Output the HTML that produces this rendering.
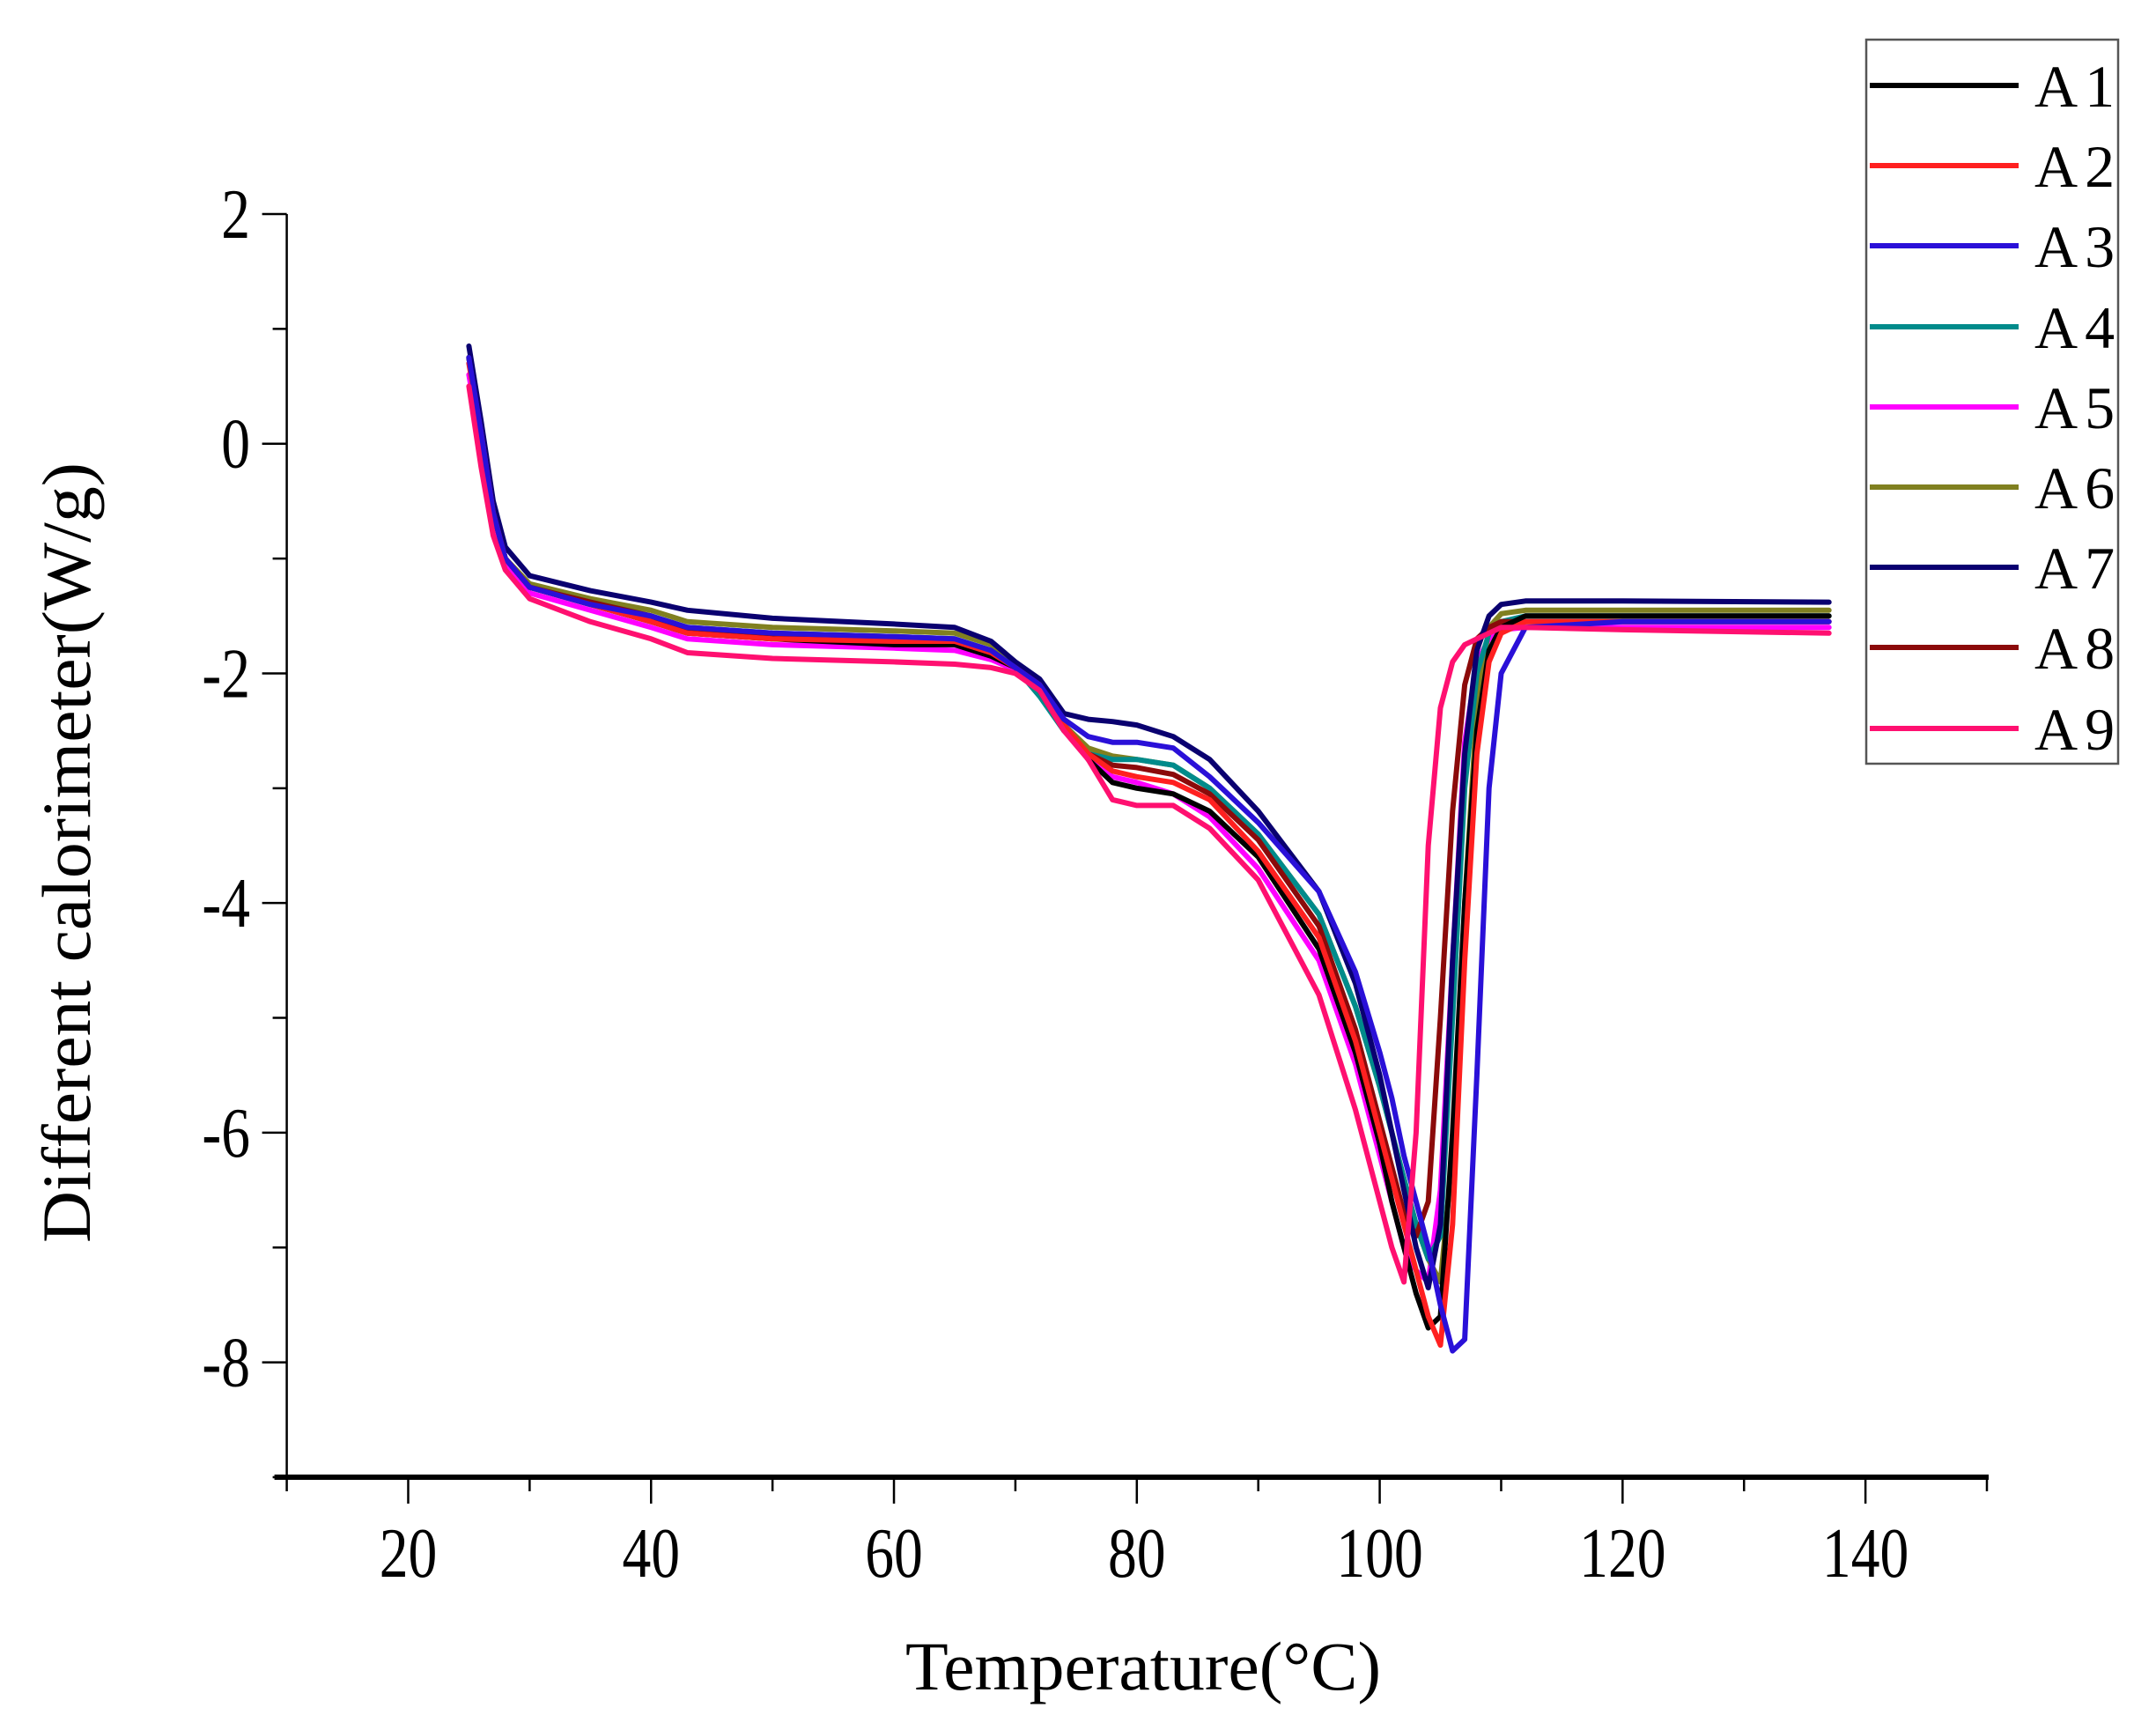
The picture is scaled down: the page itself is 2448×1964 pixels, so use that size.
<!DOCTYPE html>
<html><head><meta charset="utf-8"><style>
html,body{margin:0;padding:0;background:#fff;}
svg{display:block;font-family:"Liberation Serif",serif;}
</style></head><body>
<svg id="chart" width="2448" height="1964" viewBox="0 0 2448 1964" xmlns="http://www.w3.org/2000/svg">
<g id="axes"></g>
<g id="series"></g>
<g id="legend"></g>
<text x="1298" y="1918" font-size="78" text-anchor="middle" textLength="540" lengthAdjust="spacingAndGlyphs">Temperature(°C)</text>
<text transform="translate(102,968) rotate(-90)" font-size="78" text-anchor="middle" textLength="886" lengthAdjust="spacingAndGlyphs">Different calorimeter(W/g)</text>
</svg>
<script>
const temps = [25,26,27,28,30,35,40,43,50,60,65,68,70,72,74,76,78,80,83,86,90,95,98,100,101,102,103,104,105,106,107,108,109,110,112,120,137];
const seriesNames = ["A1","A2","A3","A4","A5","A6","A7","A8","A9"];
const seriesColors = ["#000000","#ff2020","#2a10d8","#008b8b","#ff00ff","#808020","#0a0070","#8b0a0a","#ff1070"];
const a1 = [0.75,0.1,-0.6,-1.0,-1.25,-1.4,-1.55,-1.65,-1.7,-1.75,-1.75,-1.85,-1.95,-2.1,-2.45,-2.75,-2.95,-3.0,-3.05,-3.2,-3.6,-4.4,-5.3,-6.1,-6.6,-7.0,-7.4,-7.7,-7.6,-6.0,-4.0,-2.5,-1.8,-1.6,-1.5,-1.5,-1.5];
const a2 = [0.7,0.1,-0.6,-1.0,-1.25,-1.4,-1.55,-1.65,-1.7,-1.72,-1.72,-1.82,-1.95,-2.1,-2.45,-2.7,-2.85,-2.9,-2.95,-3.1,-3.55,-4.3,-5.2,-6.0,-6.4,-6.8,-7.2,-7.6,-7.85,-6.8,-4.5,-2.7,-1.9,-1.65,-1.55,-1.55,-1.55];
const a3 = [0.75,0.1,-0.6,-1.0,-1.25,-1.4,-1.5,-1.6,-1.65,-1.68,-1.7,-1.8,-1.95,-2.1,-2.4,-2.55,-2.6,-2.6,-2.65,-2.9,-3.3,-3.9,-4.6,-5.3,-5.7,-6.2,-6.6,-7.0,-7.5,-7.9,-7.8,-5.5,-3.0,-2.0,-1.6,-1.55,-1.55];
const a4 = [0.75,0.1,-0.6,-1.0,-1.25,-1.38,-1.5,-1.6,-1.65,-1.68,-1.7,-1.8,-1.95,-2.2,-2.5,-2.7,-2.75,-2.75,-2.8,-3.0,-3.4,-4.1,-4.9,-5.6,-6.0,-6.4,-6.8,-7.1,-6.9,-5.0,-3.0,-2.0,-1.65,-1.55,-1.5,-1.5,-1.5];
const a5 = [0.6,0.0,-0.7,-1.05,-1.3,-1.45,-1.6,-1.7,-1.75,-1.78,-1.8,-1.88,-1.97,-2.1,-2.45,-2.75,-2.9,-2.95,-3.05,-3.25,-3.7,-4.5,-5.4,-6.2,-6.6,-7.0,-7.2,-7.3,-6.5,-4.5,-2.6,-1.9,-1.7,-1.62,-1.6,-1.6,-1.6];
const a6 = [0.75,0.1,-0.6,-1.0,-1.22,-1.35,-1.45,-1.55,-1.6,-1.63,-1.65,-1.75,-1.92,-2.1,-2.45,-2.65,-2.72,-2.75,-2.8,-3.0,-3.4,-4.1,-4.9,-5.6,-6.0,-6.4,-6.8,-7.1,-7.3,-6.2,-4.0,-2.3,-1.6,-1.48,-1.45,-1.45,-1.45];
const a7 = [0.85,0.2,-0.5,-0.9,-1.15,-1.28,-1.38,-1.45,-1.52,-1.57,-1.6,-1.72,-1.9,-2.05,-2.35,-2.4,-2.42,-2.45,-2.55,-2.75,-3.2,-3.9,-4.7,-5.5,-6.0,-6.5,-7.0,-7.35,-6.8,-4.5,-2.7,-1.8,-1.5,-1.4,-1.37,-1.37,-1.38];
const a8 = [0.75,0.1,-0.6,-1.0,-1.25,-1.38,-1.5,-1.62,-1.68,-1.7,-1.72,-1.82,-1.95,-2.15,-2.5,-2.7,-2.8,-2.82,-2.88,-3.05,-3.45,-4.2,-5.1,-5.9,-6.3,-6.7,-6.9,-6.6,-5.0,-3.2,-2.1,-1.7,-1.6,-1.55,-1.55,-1.55,-1.55];
const a9 = [0.5,-0.2,-0.8,-1.1,-1.35,-1.55,-1.7,-1.82,-1.87,-1.9,-1.92,-1.95,-2.0,-2.15,-2.5,-2.75,-3.1,-3.15,-3.15,-3.35,-3.8,-4.8,-5.8,-6.6,-7.0,-7.3,-6.0,-3.5,-2.3,-1.9,-1.75,-1.7,-1.65,-1.6,-1.6,-1.62,-1.65];
const seriesValues = [a1,a2,a3,a4,a5,a6,a7,a8,a9];
const xTicks = [20,40,60,80,100,120,140];
const yTicks = [2,0,-2,-4,-6,-8];
const drawOrder = [4,5,3,7,6,0,1,2,8];

const NS="http://www.w3.org/2000/svg";
const X0=325.6,X1=2256,XMIN=10,XMAX=150;
const Y0=243,Y1=1677,YMAX=2,YMIN=-9;
function sx(t){return X0+(t-XMIN)/(XMAX-XMIN)*(X1-X0);}
function sy(v){return Y0+(YMAX-v)/(YMAX-YMIN)*(Y1-Y0);}
function mk(tag,attrs,parent){const e=document.createElementNS(NS,tag);for(const k in attrs)e.setAttribute(k,attrs[k]);parent.appendChild(e);return e;}

const axes=document.getElementById('axes');
let ya=mk('line',{x1:X0,y1:Y0,x2:X0,y2:Y1,stroke:'#000','stroke-width':2.5},axes);


let xa=mk('line',{x1:X0-14,y1:Y1,x2:X1+2,y2:Y1,stroke:'#000','stroke-width':6},axes);


for(let t=XMIN;t<=XMAX;t+=10){
  const major=(t%20===0);
  const tk=mk('line',{x1:sx(t),y1:Y1,x2:sx(t),y2:Y1+(major?30:16),stroke:'#000','stroke-width':2.5},axes);
  
  
}
xTicks.forEach(t=>{
  const tx=mk('text',{'font-size':80,'text-anchor':'middle',transform:'translate('+sx(t)+',1790) scale(0.82,1)'},axes);
  tx.textContent=t;
  
  
});
for(let v=YMAX;v>=YMIN;v-=1){
  const major=(v%2===0);
  const tk=mk('line',{x1:X0,y1:sy(v),x2:X0-(major?28:16),y2:sy(v),stroke:'#000','stroke-width':2.5},axes);
  
  
}
yTicks.forEach(v=>{
  const tx=mk('text',{'font-size':80,'text-anchor':'end',transform:'translate(284,'+(sy(v)+27)+') scale(0.82,1)'},axes);
  tx.textContent=v;
  
  
});

const sg=document.getElementById('series');
drawOrder.forEach(i=>{
  const vals=seriesValues[i];
  const d=temps.map((t,j)=>(j?'L':'M')+sx(t).toFixed(1)+' '+sy(vals[j]).toFixed(1)).join(' ');
  const p=mk('path',{d:d,fill:'none',stroke:seriesColors[i],'stroke-width':6,'stroke-linejoin':'round','stroke-linecap':'round'},sg);
  
  
});

const lg=document.getElementById('legend');
let box=mk('rect',{x:2119,y:45,width:286,height:822,fill:'#fff',stroke:'#555','stroke-width':2.5},lg);


const rowY=[97,188,279,371,462,553,644,735,827];
seriesNames.forEach((n,i)=>{
  const g=mk('g',{},lg);
  
  
  mk('line',{x1:2123,y1:rowY[i],x2:2292,y2:rowY[i],stroke:seriesColors[i],'stroke-width':6},g);
  const t=mk('text',{x:2310,y:rowY[i]+24,'font-size':68,'letter-spacing':'8'},g);
  t.textContent=n;
});
</script>
</body></html>
